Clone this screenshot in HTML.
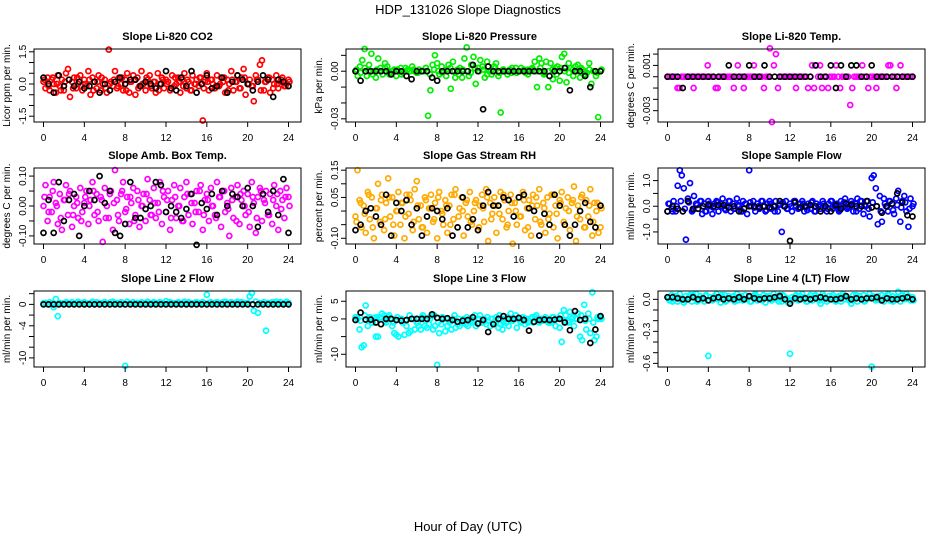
<!DOCTYPE html>
<html><head><meta charset="utf-8"><style>
html,body{margin:0;padding:0;background:#fff;}
svg{display:block;font-family:"Liberation Sans",sans-serif;}
</style></head><body>
<svg id="chart" width="936" height="540" viewBox="0 0 936 540" xmlns="http://www.w3.org/2000/svg">
<text x="468" y="14" text-anchor="middle" font-size="13">HDP_131026  Slope Diagnostics</text>
<text x="468" y="531" text-anchor="middle" font-size="13">Hour of Day (UTC)</text>
</svg>
<script>
const xTicks=[0,4,8,12,16,20,24];
const co2Color=[0.1,-0.2,0.3,-0.3,0.2,0.0,-0.4,0.4,-0.1,0.2,-0.3,0.5,0.7,-0.6,0.1,0.3,-0.2,0.0,0.4,-0.3,0.2,-0.1,0.6,-0.5,0.3,0.1,-0.2,0.4,-0.3,0.0,0.2,-0.4,1.6,0.1,-0.1,0.6,-0.2,0.3,0.0,-0.3,0.2,0.5,-0.4,0.1,0.4,-0.5,0.3,-0.1,0.6,0.0,-0.3,0.2,0.4,-0.2,0.1,-0.4,0.5,0.0,0.3,-0.2,0.2,0.1,-0.3,0.4,-0.1,0.0,0.3,-0.4,0.2,0.5,-0.2,0.1,-0.3,0.4,0.0,0.2,-0.1,0.3,-1.7,0.1,0.5,-0.3,0.2,0.0,-0.2,0.4,-0.1,0.3,0.1,-0.4,0.2,0.0,0.6,-0.3,0.1,0.4,-0.2,0.3,0.7,-0.5,0.0,0.2,-0.1,-0.8,0.4,0.2,0.9,1.1,-0.3,0.1,0.3,-0.4,0.2,0.0,0.4,-0.2,0.1,0.3,-0.1,0.0,0.2];
const co2Core=[0.2,-0.1,0.3,0.0,-0.3,0.1,0.2,-0.2,0.3,-0.1,0.0,0.2,-0.3,0.1,0.3,-0.2,0.0,0.2,-0.1,0.3,-0.3,0.1,0.2,-0.2,0.0,0.3,-0.1,0.1,-0.3,0.2,0.0,-0.2,0.3,0.1,-0.1,0.2,-0.3,0.0,0.3,-0.2,0.1,0.2,-0.1,0.0,0.3,-0.3,0.2,0.1,-0.2,0.3,0.0,-0.1,0.2,-0.3,0.1,0.3,-0.2,0.0,0.2,-0.1,0.1];
const co2Black=[0.3,0.0,-0.4,0.4,-0.1,0.2,-0.1,0.1,-0.2,-0.1,0.1,-0.4,0.0,-0.3,0.1,0.3,0.0,0.2,0.2,-0.1,0.1,0.0,-0.2,0.0,0.6,-0.2,-0.3,0.3,-0.1,0.6,-0.4,0.0,0.4,-0.2,-0.1,0.3,-0.4,0.1,0.4,0.2,0.0,-0.3,0.1,0.4,0.2,-0.6,0.2,0.1,-0.1];
const presColor=[0,-0.003,0.003,0.007,0.014,-0.003,0.004,0.011,0,-0.004,0.008,0.002,-0.002,0.005,0.003,-0.002,0,0.001,-0.003,0,0.002,-0.001,0,0.001,0,0.003,0,-0.001,0.001,0,0,0.002,-0.028,-0.012,0.004,0.01,0.005,-0.002,0.003,0,-0.003,0.004,-0.011,0.006,-0.004,0.001,0.002,-0.004,0.008,0.015,-0.003,0.004,0.009,-0.008,0.002,0.007,0.003,-0.004,0.006,0,-0.002,0.003,0.005,-0.003,-0.026,0.001,0,-0.002,0.001,0.002,0,-0.001,0,0.002,0,-0.001,0.001,0,0.002,0.006,-0.01,0.008,0.005,-0.002,0.006,-0.01,0.005,-0.005,0.002,0.003,-0.006,0.009,0.011,-0.007,0.005,0.002,-0.003,0.003,0.004,-0.004,0.001,0,-0.001,0.005,-0.008,0,-0.003,-0.029,0];
const presCore=[0.001,-0.001,0.002,0,-0.002,0.001,0,0.002,-0.001,0,0.001,-0.002,0.002,0,0.001,-0.001,0,0.002,-0.002,0.001,0,-0.001,0.001,0.002,0,-0.002,0.001,0,-0.001,0.002,0,0.001,-0.002,0,0.002,-0.001,0.001,0,-0.001,0.002,0,0.001,-0.002,0.001,0,0.002,-0.001,0,0.001,-0.002,0.002,0,-0.001,0.001,0,0.002,-0.002,0.001,0,-0.001,0.001];
const presBlack=[0,-0.006,0,0,0,0,0,-0.002,0,0,-0.003,-0.005,0,0,0,-0.004,-0.006,0,0,0,0,0,0,0.004,0,-0.024,0.003,0,0,0,0,0,0,0,0,0,0,0,-0.003,0,0,0.002,-0.012,0,0,-0.003,-0.01,0,0];
const tempColor=[0,0,0,0,0,-0.001,-0.001,0,0,0,0,0,0,-0.001,0,0,0,0,0,0,0.001,0,0,0,-0.001,-0.001,0,0,0,0,0,0,0,-0.001,0,0.001,0,0,-0.001,0,0,0,0,0.001,0,0,0,0,-0.001,0,0,0.0025,-0.004,0.001,0.002,-0.001,0,0,0,0,0,0,0,0,-0.001,0,0,0,0,0,-0.001,0,0.001,-0.001,0.001,0,0.001,-0.001,0,0,-0.001,0,0,0,0.001,0,-0.001,0,0,0,0,-0.0025,-0.001,0,0,0,0,0.001,0,0,-0.001,0,0,0,-0.001,0,0,0,0,0,0.001,0.001,0,0,-0.001,0,0.001,0,0,0,0,0,0];
const tempBlack=[0,0,0,-0.001,0,0,0,0,0,0,0,0,0.001,0,0,0,0.001,0,0,0.001,0,0,0,0,0,0,0,0,0,0.001,0,0,0.001,-0.001,0.001,0,0.001,0.001,0,0,0.001,0,0,0,0,0,0,0,0];
const ambColor=[0.0,0.07,-0.05,0.03,-0.02,0.08,0.01,-0.06,0.04,-0.08,0.02,0.07,-0.03,0.05,-0.07,0.0,0.03,-0.04,0.06,-0.02,0.01,0.05,-0.06,0.02,0.08,-0.03,0.04,-0.05,0.03,-0.12,0.06,0.0,-0.04,0.05,-0.08,0.12,0.02,-0.05,0.04,0.08,-0.02,0.03,-0.06,0.01,0.06,-0.03,0.05,-0.07,0.0,0.04,-0.05,0.09,0.02,-0.03,0.06,-0.04,0.01,0.08,-0.06,0.03,-0.02,0.05,-0.08,0.02,0.07,-0.04,0.0,0.06,-0.05,0.03,0.08,-0.03,0.04,-0.06,0.01,0.05,-0.02,0.07,-0.08,0.02,0.04,-0.05,0.06,0.0,-0.03,0.08,0.03,-0.07,0.05,-0.02,0.01,-0.1,0.06,-0.04,0.03,0.07,-0.06,0.02,0.05,-0.03,0.04,-0.07,0.08,0.01,-0.09,0.03,0.06,-0.05,0.02,0.05,-0.03,0.04,-0.06,0.07,0.0,-0.08,0.05,0.02,-0.04,0.06,0.03];
const ambCore=[0.03,-0.02,0.05,0.0,-0.04,0.02,0.04,-0.03,0.01,-0.05,0.03,0.0,0.05,-0.02,0.02,-0.04,0.04,0.01,-0.03,0.05,-0.01,0.03,-0.05,0.02,0.0,0.04,-0.03,0.01,-0.02,0.05,0.02,-0.04,0.03,0.0,-0.05,0.04,0.01,-0.02,0.05,-0.03,0.02,0.0,-0.04,0.03,0.05,-0.01,0.02,-0.05,0.04,0.0,-0.02,0.03,-0.04,0.05,0.01,-0.03,0.02,0.04,-0.01,0.03,0.0];
const ambBlack=[-0.09,0.02,-0.09,0.08,-0.05,0.02,0.04,-0.1,0.0,0.05,0.02,0.1,0.01,0.05,-0.09,-0.1,-0.06,0.08,-0.04,-0.04,-0.01,0.0,0.08,0.07,-0.02,0.0,-0.02,-0.04,-0.01,0.04,-0.13,0.01,-0.01,0.04,-0.03,0.05,0.0,0.04,0.03,0.0,0.06,0.0,-0.07,0.04,-0.02,0.05,-0.03,0.09,-0.09];
const rhColor=[-0.02,0.15,0.04,-0.06,0.02,-0.08,0.07,-0.03,0.05,-0.1,0.01,0.1,-0.04,0.06,-0.07,0.03,0.12,-0.02,0.05,-0.09,0.0,0.07,-0.05,0.03,-0.1,0.06,-0.01,0.04,-0.07,0.08,0.11,-0.03,0.02,-0.06,0.05,-0.08,0.01,0.06,-0.04,0.03,-0.1,0.07,0.0,-0.05,0.04,-0.08,0.02,0.06,-0.03,0.08,-0.06,0.01,0.05,-0.09,0.03,-0.02,0.07,-0.05,0.0,0.04,-0.07,0.02,0.06,-0.04,0.08,-0.11,0.03,-0.01,0.05,-0.08,0.02,0.07,-0.03,0.04,-0.06,0.0,0.06,-0.12,0.03,-0.05,0.05,-0.02,0.07,-0.07,0.01,0.04,-0.09,0.06,-0.03,0.02,0.08,-0.05,0.03,-0.08,0.05,-0.01,0.06,-0.06,0.02,-0.1,0.04,0.07,-0.04,0.01,0.05,-0.07,0.03,0.09,-0.11,0.02,-0.03,0.06,-0.06,0.04,-0.02,0.08,-0.09,0.03,0.0,-0.08,-0.06];
const rhCore=[-0.04,0.03,-0.01,0.06,-0.06,0.01,0.04,-0.03,0.05,-0.05,0.0,0.03,-0.02,0.06,-0.04,0.02,-0.06,0.04,0.01,-0.03,0.05,-0.01,0.02,-0.05,0.06,-0.02,0.0,0.04,-0.04,0.03,-0.06,0.01,0.05,-0.03,0.02,-0.01,0.06,-0.05,0.03,0.0,-0.02,0.04,-0.06,0.02,0.05,-0.04,0.01,-0.03,0.06,-0.01,0.03,-0.05,0.0,0.04,-0.02,0.05,-0.06,0.02,-0.04,0.03,0.01];
const rhBlack=[-0.07,-0.05,0.0,0.01,-0.02,-0.05,0.06,-0.09,0.03,0.0,0.04,-0.05,0.01,-0.09,-0.02,0.01,0.0,-0.03,0.01,-0.09,-0.06,0.05,-0.06,-0.03,-0.07,0.02,0.07,0.02,0.02,0.05,0.04,-0.02,0.05,0.06,0.01,0.0,-0.09,-0.01,-0.05,0.06,0.02,-0.05,-0.09,-0.05,0.0,0.03,-0.04,-0.06,0.02];
const sampleColor=[-0.2,0.1,-0.1,0.2,-0.2,0.8,1.4,1.2,0.7,-1.3,0.3,0.9,-0.2,0.4,0.1,-0.1,0.2,-0.3,0.1,-0.2,0.2,0.0,-0.3,0.1,0.2,-0.2,0.1,0.3,-0.1,0.0,0.2,-0.2,0.1,-0.1,0.3,0.0,-0.2,0.2,0.1,-0.3,1.4,0.0,0.2,-0.2,0.1,-0.1,0.2,0.0,-0.2,0.1,0.2,-0.1,0.0,0.2,-0.2,0.1,-1.0,0.0,0.2,-0.1,0.1,-0.2,0.2,0.0,-0.1,0.1,0.2,-0.2,0.0,0.1,-0.1,0.2,-0.2,0.1,0.0,-0.1,0.2,0.0,-0.2,0.1,0.2,-0.1,0.0,0.1,-0.2,0.2,0.1,0.3,-0.1,0.0,0.2,-0.2,0.1,0.3,-0.1,0.2,-0.3,0.0,0.2,-0.4,1.1,1.2,0.7,-0.7,0.4,-0.6,0.3,0.0,-0.2,0.2,0.1,-0.3,0.3,0.6,-0.6,0.2,0.4,-0.2,-0.8,0.3,0.0];
const sampleCore=[0.1,-0.2,0.0,0.2,-0.1,0.15,-0.15,0.05,0.2,-0.2,0.1,-0.05,0.15,0.0,-0.15,0.2,-0.1,0.05,-0.2,0.1,0.15,-0.05,0.0,0.2,-0.15,0.1,-0.2,0.05,0.15,-0.1,0.0,0.2,-0.05,0.1,-0.15,0.15,-0.2,0.05,0.1,-0.1,0.2,0.0,-0.15,0.15,-0.05,0.1,-0.2,0.2,0.05,-0.1,0.15,0.0,-0.2,0.1,0.2,-0.15,0.05,-0.05,0.15,-0.1,0.1];
const sampleBlack=[-0.2,0.0,-0.1,-0.2,0.2,-0.1,-0.1,0.0,0.05,0.0,0.05,0.05,-0.05,0.0,-0.2,-0.1,0.0,0.0,-0.05,0.0,-0.05,0.0,0.2,0.0,-1.35,0.15,-0.05,0.0,0.05,0.0,-0.2,0.0,-0.2,0.05,-0.1,0.1,0.05,0.0,0.0,0.2,-0.05,0.0,-0.25,0.0,0.1,0.5,0.15,-0.35,-0.4];
const line2Color=[0.2,0.3,0,0.4,0.2,-0.5,1,-2.2,0.3,0.2,0,0.4,0.3,0.2,0.4,0.1,0.3,0.5,0.2,0.3,0.4,0.2,0.1,0.3,0.5,0.2,0.4,0.3,0.2,0.3,0.4,0.2,0.3,0.4,0.5,0.2,0.3,0.1,0.4,0.3,-11.5,0.5,0.2,0.3,0.4,0.2,0.3,0.1,0.4,0.3,0.2,0.5,0.3,0.2,0.4,0.3,0.2,0.4,0.3,0.1,0.6,0.2,0.4,0.3,0.2,0.3,0.4,0.2,0.3,0.5,0.2,0.4,0.3,0.2,0.3,0.4,0.2,0.3,0.4,0.2,1.8,0.3,0.4,0.2,0.3,0.4,0.2,0.3,0.4,0.5,0.2,0.3,0.4,0.2,0.3,0.5,0.2,0.4,0.3,0.2,0.3,1.5,2.1,-1.2,0.5,-1.6,0.3,0.2,0.4,-4.9,0.3,0.2,0.4,0.3,0.5,0.2,0.4,0.3,0.2,0.5,0.3];
const line2Black=[0,0,0,0,0,0,0,0,0,0,0,0,0,0,0,0,0,0,0,0,0,0,0,0,0,0,0,0,0,0,0,0,0,0,0,0,0,0,0,0,0,0,0,0,0,0,0,0,0];
const line3Color=[0.5,0,-3,-8,-7.5,3.8,-2,0.5,-1,0.3,-5,-5,0.5,1.5,1,-1,0.5,0,-2,-4,-4.5,-5,0,-1,-4.5,-2,-4,-3.5,0,-3,-1,-2,-3,1,-2,-2.5,-1.5,1,-3,-2,-13,-4,-1.5,0,-3.5,-2,-1,-3,0,-2.5,-1.5,-2,-1,0,-1.5,-2,0,-1,-0.5,-2,0,1,-1,0,-1.5,-0.5,-2,0,-1,0.5,-2.5,-1.5,-3,0,-1,-2,1.5,-0.5,0,-2.5,0,-1,0.5,-1.5,0,-0.5,0,-1,0.5,0,-1,0,-0.5,0.5,0,-1,-1,0.5,-2,0,-2.5,-6.5,2.5,1,-0.5,2,0,-2,0,1.5,-5,-6,4,-3,1.5,-4,7.5,-6,-5,0,0.5];
const line3Core=[0.5,-0.5,1,0,-1,0.5,0,-0.5,1,-1,0.5,0,-0.5,1,0,-1,0.5,-0.5,0,1,-1,0.5,0,-0.5,1,0,-1,0.5,-0.5,1,0,-1,0.5,0,-0.5,1,-1,0.5,0,1,-0.5,0,-1,0.5,1,-0.5,0,-1,0.5,0,1,-0.5,-1,0.5,0,1,-0.5,0,-1,0.5,0];
const line3Black=[-0.3,1.8,-0.2,-0.2,-1,-1.5,0,0,-0.3,-0.5,-0.3,0,0,0,0,1.3,0.3,0,0.2,-0.3,-0.8,-0.5,-0.3,0.5,-1.3,-0.3,-3.7,-1.5,0,0.8,0,0,0.3,-0.3,-3.3,-0.8,-0.3,-0.2,-0.3,-0.2,0,-1,-3.2,2.2,-0.3,0,-6.8,-3,0.8];
const line4Color=[0.02,-0.01,0.04,0,0.03,-0.02,0.05,0.01,-0.03,0.03,0,0.04,-0.02,0.02,0.05,-0.01,0.03,0,-0.02,0.04,-0.53,0.02,-0.01,0.03,0.05,0,-0.03,0.02,0.04,-0.01,0.03,0,0.02,-0.02,0.05,0.01,0.03,-0.01,0.04,0,0.02,-0.02,0.03,0.05,-0.01,0.02,0,0.04,-0.03,0.02,0.03,-0.01,0.05,0,0.02,0.04,-0.02,0.03,0.01,-0.03,-0.51,0.02,0,0.04,-0.01,0.03,0.05,0,-0.02,0.02,0.04,-0.01,0.03,0,0.02,-0.04,0.05,0.01,-0.02,0.03,0,0.04,-0.01,0.02,0.03,-0.02,0.05,0,0.02,-0.01,-0.04,0.04,0.01,-0.02,0.03,0,0.04,-0.01,0.02,0.05,-0.63,0.02,-0.01,0.03,0,0.04,-0.02,0.02,0.05,-0.01,0.03,0,0.02,0.07,-0.02,0.04,0.01,0.05,0.03,-0.01,0.02];
const line4Core=[0.01,-0.02,0.03,0,-0.01,0.02,0.04,-0.02,0.01,0.03,-0.01,0.02,0,0.04,-0.02,0.01,0.03,-0.01,0.02,0,-0.02,0.04,0.01,-0.01,0.03,0,0.02,-0.02,0.04,0.01,-0.01,0.03,0,0.02,-0.02,0.01,0.04,-0.01,0.03,0,0.02,-0.02,0.01,0.03,0,-0.01,0.04,0.02,-0.02,0.01,0.03,0,-0.01,0.02,0.04,-0.02,0.01,0.03,0,0.02,-0.01];
const line4Black=[0.02,0.02,0.01,0,0,0.02,0,0.01,-0.01,0.01,0.02,0,0.01,0,0.02,0,0.03,0.01,0,0.01,0.01,0.02,0.03,0,-0.04,0.01,0,0.01,0,0.01,0.02,0.01,0,0,0.01,0.03,0,0.01,0,0.01,0.01,0.02,-0.01,0.01,0,0,0.01,0.02,0];

const panels=[
 {name:'co2',title:'Slope Li-820 CO2',ylab:'Licor ppm per min.',col:0,row:0,ylim:[-1.77,1.63],ticks:[-1.5,-1,-0.5,0,0.5,1,1.5],labels:{'-1.5':'-1.5','0':'0.0','1.5':'1.5'},color:'#ff0000',c:co2Color,k:co2Core,b:co2Black},
 {name:'pressure',title:'Slope Li-820 Pressure',ylab:'kPa per min.',col:1,row:0,ylim:[-0.032,0.014],ticks:[-0.03,-0.02,-0.01,0,0.01],labels:{'-0.03':'-0.03','0':'0.00'},color:'#00ee00',c:presColor,k:presCore,b:presBlack},
 {name:'temp',title:'Slope Li-820 Temp.',ylab:'degrees C per min.',col:2,row:0,ylim:[-0.004,0.00245],ticks:[-0.003,-0.002,-0.001,0,0.001,0.002],labels:{'-0.003':'-0.003','0.001':'0.001'},color:'#ff00ff',c:tempColor,k:[],b:tempBlack},
 {name:'amb-temp',title:'Slope Amb. Box Temp.',ylab:'degrees C per min.',col:0,row:1,ylim:[-0.127,0.127],ticks:[-0.1,-0.05,0,0.05,0.1],labels:{'-0.1':'-0.10','0':'0.00','0.1':'0.10'},color:'#ff00ff',c:ambColor,k:ambCore,b:ambBlack},
 {name:'rh',title:'Slope Gas Stream RH',ylab:'percent per min.',col:1,row:1,ylim:[-0.121,0.158],ticks:[-0.1,-0.05,0,0.05,0.1,0.15],labels:{'-0.1':'-0.10','0.05':'0.05','0.15':'0.15'},color:'#ffaa00',c:rhColor,k:rhCore,b:rhBlack},
 {name:'sample-flow',title:'Slope Sample Flow',ylab:'ml/min per min.',col:2,row:1,ylim:[-1.47,1.49],ticks:[-1,-0.5,0,0.5,1],labels:{'-1':'-1.0','0':'0.0','1':'1.0'},color:'#0000ff',c:sampleColor,k:sampleCore,b:sampleBlack},
 {name:'line2',title:'Slope Line 2 Flow',ylab:'ml/min per min.',col:0,row:2,ylim:[-11.7,2.5],ticks:[-10,-8,-6,-4,-2,0,2],labels:{'-10':'-10','-4':'-4','0':'0'},color:'#00ffff',c:line2Color,k:[],b:line2Black},
 {name:'line3',title:'Slope Line 3 Flow',ylab:'ml/min per min.',col:1,row:2,ylim:[-13.6,7.9],ticks:[-10,-5,0,5],labels:{'-10':'-10','0':'0','5':'5'},color:'#00ffff',c:line3Color,k:line3Core,b:line3Black},
 {name:'line4',title:'Slope Line 4 (LT) Flow',ylab:'ml/min per min.',col:2,row:2,ylim:[-0.634,0.078],ticks:[-0.6,-0.5,-0.4,-0.3,-0.2,-0.1,0],labels:{'-0.6':'-0.6','-0.3':'-0.3','0':'0.0'},color:'#00ffff',c:line4Color,k:line4Core,b:line4Black}
];
const NS='http://www.w3.org/2000/svg';
const svg=document.getElementById('chart');
const colLeft=[34,346,658],rowTop=[49,168,291],rowBot=[122,244,367],W=267;
function mk(tag,attrs,parent){const e=document.createElementNS(NS,tag);for(const k in attrs)e.setAttribute(k,attrs[k]);parent.appendChild(e);return e;}
panels.forEach(p=>{
 const L=colLeft[p.col],T=rowTop[p.row],B=rowBot[p.row],R=L+W;
 const g=mk('g',{},svg);
 
 
 const xs=h=>L+9.5+h*(245/24);
 const ys=v=>B-(v-p.ylim[0])/(p.ylim[1]-p.ylim[0])*(B-T);
 const t=mk('text',{x:(L+R)/2,y:T-9,'text-anchor':'middle','font-size':'11','font-weight':'bold'},g);
 t.textContent=p.title;
 
 
 const yl=mk('text',{transform:`translate(${L-24},${(T+B)/2}) rotate(-90)`,'text-anchor':'middle','font-size':'10'},g);
 yl.textContent=p.ylab;
 
 
 const drawPts=(arr,color,nm,off)=>{
  const pg=mk('g',{fill:'none',stroke:color,'stroke-width':'1.7'},g);
  
  
  arr.forEach((v,i)=>{
   const h=i*24/(arr.length-1);
   const c=mk('circle',{cx:(xs(h)+off).toFixed(1),cy:ys(v).toFixed(1),r:'2.5'},pg);
   
   
  });
 };
 drawPts(p.k,p.color,'color-series-core',1);
 drawPts(p.c,p.color,'color-series',0);
 drawPts(p.b,'#000','black-series',0);
 const box=mk('rect',{x:L,y:T,width:W,height:B-T,fill:'none',stroke:'#000','stroke-width':'1'},g);
 
 
 xTicks.forEach(h=>{
  const x=xs(h);
  mk('line',{x1:x,x2:x,y1:B,y2:B+5,stroke:'#000'},g);
  const tl=mk('text',{x:x,y:B+19,'text-anchor':'middle','font-size':'10'},g);
  tl.textContent=h;
  
  
 });
 p.ticks.forEach(v=>{
  const y=ys(v);
  mk('line',{x1:L-5,x2:L,y1:y,y2:y,stroke:'#000'},g);
  const lab=p.labels[String(v)];
  if(lab!==undefined){
   const tl=mk('text',{transform:`translate(${L-8},${y}) rotate(-90)`,'text-anchor':'middle','font-size':'10'},g);
   tl.textContent=lab;
   
   
  }
 });
});
</script>
</body></html>
